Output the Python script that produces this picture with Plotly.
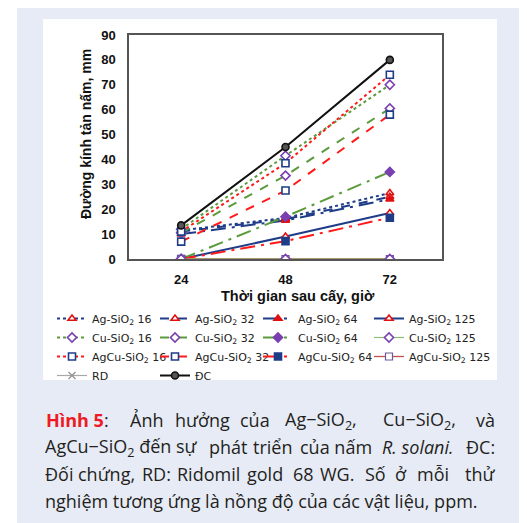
import plotly.graph_objects as go

hours = [24, 48, 72]
ag16 = [11.5, 16.5, 26.5]
ag32 = [11, 16, 25]
ag64 = [10, 15.5, 24]
ag125 = [0, 9, 18.5]
cu16 = [12, 41.5, 70]
cu32 = [10.5, 33.5, 60.5]
cu64 = [0, 17, 35]
cu125 = [0, 0, 0]
agcu16 = [11, 38.5, 74]
agcu32 = [7, 27.5, 58]
agcu64 = [0, 7.2, 16.6]
agcu125 = [0, 0, 0]
rd = [0, 0, 0]
dc = [13.5, 45, 80]

y_ticks = [0, 10, 20, 30, 40, 50, 60, 70, 80, 90]

BLUE = "#1f3c88"
GREEN = "#5b9b3c"
RED = "#ff1a1a"
PURPLE = "#7a3fb0"
TRI = "#e01010"

OFF = 8  # page body margin
W, H = 527 - OFF, 523 - OFF
L, R, T, B = 129, 442, 35, 259  # plot area in page pixels


def px(x):
    return (x - L) / (R - L)


def py(y):
    return (B - y) / (B - T)


fig = go.Figure()


def add(name, ys, lcolor, dash, lwidth, sym, mcolor, mfill, rank, legend="legend",
        mline=1.6, msize=7):
    fig.add_trace(go.Scatter(
        x=hours, y=ys, name=name, mode="lines+markers", legend=legend, legendrank=rank,
        line=dict(color=lcolor, dash=dash, width=lwidth),
        marker=dict(symbol=sym, size=msize, color=mfill,
                    line=dict(color=mcolor, width=mline)),
    ))


def spacer(rank):
    # empty legend slot (the 4th column is drawn by legend2)
    fig.add_trace(go.Scatter(x=[None], y=[None], name=" ", mode="lines",
                             line=dict(width=0, color="rgba(0,0,0,0)"),
                             legend="legend", legendrank=rank, hoverinfo="skip"))


S = "SiO<sub>2</sub>"
add("RD", rd, "#a8a8a8", "solid", 1.2, "x-thin", "#909090", "#909090", 10, mline=1.2)
add(f"Ag-{S} 16", ag16, BLUE, "dot", 2, "triangle-up", TRI, "white", 1)
add(f"Ag-{S} 32", ag32, BLUE, "dash", 2, "triangle-up", TRI, "white", 2)
add(f"Ag-{S} 64", ag64, BLUE, "longdashdot", 2, "triangle-up", TRI, TRI, 3)
add(f"Ag-{S} 125", ag125, BLUE, "solid", 2, "triangle-up", TRI, "white", 1, "legend2")
add(f"Cu-{S} 16", cu16, GREEN, "dot", 2, "diamond", PURPLE, "white", 4)
add(f"Cu-{S} 32", cu32, GREEN, "dash", 2, "diamond", PURPLE, "white", 5)
add(f"Cu-{S} 64", cu64, GREEN, "longdashdot", 2, "diamond", PURPLE, PURPLE, 6)
add(f"AgCu-{S} 16", agcu16, RED, "dot", 2, "square", BLUE, "white", 7)
add(f"AgCu-{S} 32", agcu32, RED, "dash", 2, "square", BLUE, "white", 8)
add(f"AgCu-{S} 64", agcu64, RED, "longdashdot", 2, "square", BLUE, BLUE, 9)
add(f"AgCu-{S} 125", agcu125, "#c0504d", "solid", 1.3, "square", "#6a5a9a", "white", 3,
    "legend2", mline=1.2)
add(f"Cu-{S} 125", cu125, "#8cc070", "solid", 1.2, "diamond", PURPLE, "white", 2, "legend2")
add("ĐC", dc, "#111111", "solid", 2, "circle", "#111111", "#555555", 11)
spacer(3.5)
spacer(6.5)
spacer(9.5)

BG = "#e7ebf6"
shapes = [
    dict(type="rect", xref="paper", yref="paper", layer="below",
         x0=px(17), x1=px(520), y0=py(540), y1=py(6),
         fillcolor=BG, line=dict(width=0)),
    dict(type="rect", xref="paper", yref="paper", layer="below",
         x0=px(43), x1=px(497), y0=py(380), y1=py(19),
         fillcolor="white", line=dict(width=0)),
]

annotations = [
    dict(text="<b>Thời gian sau cấy, giờ</b>", x=px(298), y=py(296), xref="paper", yref="paper",
         showarrow=False, xanchor="center", yanchor="middle",
         font=dict(family="Liberation Sans", size=14.5, color="#111")),
    dict(text="<b>Đường kính tản nấm, mm</b>", x=px(86), y=py(134), xref="paper", yref="paper",
         showarrow=False, xanchor="center", yanchor="middle", textangle=-90,
         font=dict(family="Liberation Sans", size=14, color="#111")),
]

CAP_FONT = dict(family="Open Sans", size=18, color="#231f20")
SUB = "SiO<sub>2</sub>"
caption_lines = [
    (420, [(44, "<b><span style='color:#ed1c24'>Hình 5</span></b>:"), (128, "Ảnh"), (173, "hưởng"),
           (238, "của"), (283, f"Ag−{SUB},"), (381, f"Cu−{SUB},"), (497, "và")]),
    (447, [(43, f"AgCu−{SUB} đến sự"), (207, "phát"), (251, "triển"), (298, "của nấm"),
           (380, "<i>R. solani.</i>"), (497, "ĐC:")]),
    (474, [(43, "Đối"), (76, "chứng,"), (140, "RD:"), (175, "Ridomil"), (245, "gold"),
           (291, "68"), (318, "WG."), (363, "Số"), (393, "ở"), (415, "mỗi"), (497, "thử")]),
    (501, [(43, "nghiệm tương ứng là nồng độ của các vật liệu, ppm.")]),
]
for yy, words in caption_lines:
    n = len(words)
    for i, (xx, w) in enumerate(words):
        last = (i == n - 1 and n > 1)
        annotations.append(dict(
            text=w, x=px(xx), y=py(yy), xref="paper", yref="paper", showarrow=False,
            xanchor="right" if last else "left", yanchor="middle", font=CAP_FONT))

LEG_FONT = dict(family="DejaVu Sans", size=11, color="#222")
fig.update_layout(
    width=W, height=H,
    margin=dict(l=L - OFF, r=W - (R - OFF), t=T - OFF, b=H - (B - OFF), pad=0),
    paper_bgcolor="white", plot_bgcolor="white",
    shapes=shapes, annotations=annotations,
    showlegend=True,
    legend=dict(orientation="h", x=px(52), y=py(304), xanchor="left", yanchor="top",
                entrywidth=58, entrywidthmode="pixels", bgcolor="rgba(0,0,0,0)",
                font=LEG_FONT, itemwidth=30, tracegroupgap=0),
    legend2=dict(orientation="v", x=px(369), y=py(304), xanchor="left", yanchor="top",
                 bgcolor="rgba(0,0,0,0)", font=LEG_FONT, itemwidth=30, tracegroupgap=0),
    xaxis=dict(range=[12, 84], tickvals=hours, ticktext=[str(h) for h in hours],
               showgrid=False, zeroline=False, showline=True, linecolor="#555",
               linewidth=1.5, mirror=True, ticks="", ticklabelstandoff=8,
               tickfont=dict(family="Liberation Sans", size=13, color="#111", weight="bold")),
    yaxis=dict(range=[0, 90], tickvals=y_ticks, showgrid=False, zeroline=False,
               showline=True, linecolor="#555", linewidth=1.5, mirror=True, ticks="",
               ticklabelstandoff=9,
               tickfont=dict(family="Liberation Sans", size=13, color="#111", weight="bold")),
)

fig.write_html("out.html")
